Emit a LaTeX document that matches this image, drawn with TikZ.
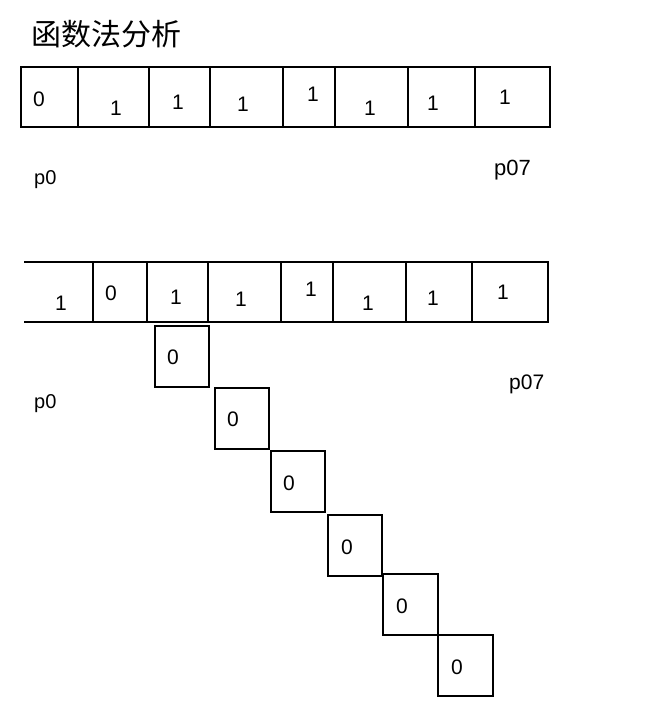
\documentclass[tikz,border=0pt]{standalone}
\usepackage{fontspec}
\setmainfont{Liberation Sans}
\newfontfamily\cjk{Noto Sans CJK SC}
\begin{document}
\begin{tikzpicture}[x=1pt,y=-1pt,
  cellbox/.style={draw=black, line width=2.8pt, inner sep=0pt, minimum height=60pt},
  stairbox/.style={draw=black, line width=2.8pt, inner sep=0pt, minimum width=54pt, minimum height=61pt},
  digit/.style={inner sep=0pt, font=\fontsize{21}{21}\selectfont},
  plabel/.style={inner sep=0pt, anchor=base west}]
\useasboundingbox (0,0) rectangle (668,712);
% title
\node[inner sep=0pt, font=\cjk\fontsize{30}{30}\selectfont, anchor=west] (title) at (31,34) {函数法分析};
% row 1
\node[cellbox, minimum width=57pt] (a1) at (49.5,97) {};
\node[cellbox, minimum width=71pt] (a2) at (113.5,97) {};
\node[cellbox, minimum width=61pt] (a3) at (179.5,97) {};
\node[cellbox, minimum width=73pt] (a4) at (246.5,97) {};
\node[cellbox, minimum width=52pt] (a5) at (309,97) {};
\node[cellbox, minimum width=73pt] (a6) at (371.5,97) {};
\node[cellbox, minimum width=67pt] (a7) at (441.5,97) {};
\node[cellbox, minimum width=75pt] (a8) at (512.5,97) {};
\node[digit] (ta1) at (39,99) {0};
\node[digit] (ta2) at (116,108) {1};
\node[digit] (ta3) at (178,102) {1};
\node[digit] (ta4) at (243,104) {1};
\node[digit] (ta5) at (313,94) {1};
\node[digit] (ta6) at (370,108) {1};
\node[digit] (ta7) at (433,103) {1};
\node[digit] (ta8) at (505,97) {1};
\node[plabel, font=\fontsize{20}{20}\selectfont] (p0a) at (34,184) {p0};
\node[plabel, font=\fontsize{22}{22}\selectfont] (p07a) at (494,175) {p07};
% row 2
\coordinate (b1tl) at (24,262);
\coordinate (b1bl) at (24,322);
\node[cellbox, minimum width=54pt] (b2) at (120,292) {};
\draw[line width=2.8pt] (b1tl) -- (b1tl -| b2.west);
\draw[line width=2.8pt] (b1bl) -- (b1bl -| b2.west);
\node[cellbox, minimum width=61pt] (b3) at (177.5,292) {};
\node[cellbox, minimum width=73pt] (b4) at (244.5,292) {};
\node[cellbox, minimum width=52pt] (b5) at (307,292) {};
\node[cellbox, minimum width=73pt] (b6) at (369.5,292) {};
\node[cellbox, minimum width=66pt] (b7) at (439,292) {};
\node[cellbox, minimum width=76pt] (b8) at (510,292) {};
\node[digit] (tb1) at (61,303) {1};
\node[digit] (tb2) at (111,293) {0};
\node[digit] (tb3) at (176,297) {1};
\node[digit] (tb4) at (241,299) {1};
\node[digit] (tb5) at (311,289) {1};
\node[digit] (tb6) at (368,303) {1};
\node[digit] (tb7) at (433,298) {1};
\node[digit] (tb8) at (503,292) {1};
\node[plabel, font=\fontsize{20}{20}\selectfont] (p0b) at (34,408) {p0};
\node[plabel, font=\fontsize{21}{21}\selectfont] (p07b) at (509,389) {p07};
% staircase
\node[stairbox] (s1) at (182,356.5) {};
\node[stairbox] (s2) at (242,418.5) {};
\node[stairbox] (s3) at (298,481.5) {};
\node[stairbox] (s4) at (355,545.5) {};
\node[stairbox, minimum width=55pt] (s5) at (410.5,604.5) {};
\node[stairbox, minimum width=55pt] (s6) at (465.5,665.5) {};
\node[digit] (ts1) at (173,357) {0};
\node[digit] (ts2) at (233,419) {0};
\node[digit] (ts3) at (289,483) {0};
\node[digit] (ts4) at (347,547) {0};
\node[digit] (ts5) at (402,606) {0};
\node[digit] (ts6) at (457,667) {0};
\end{tikzpicture}
\end{document}
